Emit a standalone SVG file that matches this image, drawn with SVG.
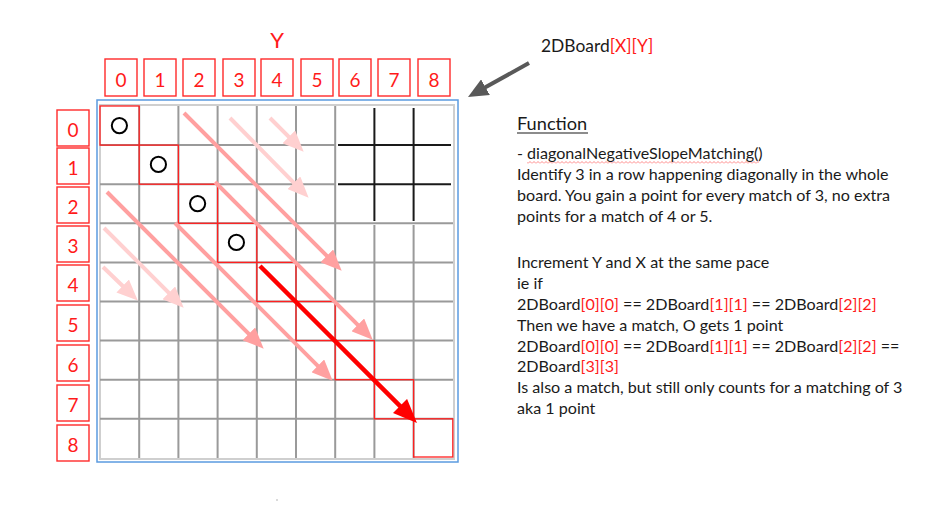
<svg xmlns="http://www.w3.org/2000/svg" width="940" height="529" viewBox="0 0 940 529">
<style>
.lbl{fill:none;stroke:#ff2a2a;stroke-width:1.4}
.num{font-family:Lato,"Liberation Sans",sans-serif;font-size:19px;fill:#ff1a1a;text-anchor:middle}
.g{stroke:#9a9a9a;stroke-width:2;fill:none}
.k{stroke:#1a1a1a;stroke-width:2;fill:none}
.cell{fill:none;stroke:#ff2020;stroke-width:1.3}
.o{fill:none;stroke:#000;stroke-width:2}
.txt{font-family:Lato,"Liberation Sans",sans-serif;font-size:16.1px;fill:#1a1a1a}
.r{fill:#ff1a1a}
.am{stroke:#ffa0a0;stroke-width:4;fill:none}
.al{stroke:#ffd0d0;stroke-width:4;fill:none}
.ar{stroke:#ff0000;stroke-width:4.5;fill:none}
</style>
<defs>
<marker id="hm" markerUnits="userSpaceOnUse" viewBox="0 0 21 18" markerWidth="21" markerHeight="18" refX="12" refY="9" orient="auto"><path d="M0,0 L21,9 L0,18 z" fill="#ffa0a0"/></marker>
<marker id="hl" markerUnits="userSpaceOnUse" viewBox="0 0 21 18" markerWidth="21" markerHeight="18" refX="12" refY="9" orient="auto"><path d="M0,0 L21,9 L0,18 z" fill="#ffd0d0"/></marker>
<marker id="hr" markerUnits="userSpaceOnUse" viewBox="0 0 24 20" markerWidth="24" markerHeight="20" refX="14" refY="10" orient="auto"><path d="M0,0 L24,10 L0,20 z" fill="#ff0000"/></marker>
<marker id="hg" markerUnits="userSpaceOnUse" viewBox="0 0 20 18" markerWidth="20" markerHeight="18" refX="12" refY="9" orient="auto"><path d="M0,0 L20,9 L0,18 z" fill="#595959"/></marker>
<pattern id="sq" patternUnits="userSpaceOnUse" x="0" y="161" width="4" height="3"><polyline points="0,2.5 2,0.5 4,2.5" fill="none" stroke="#ff6b6b" stroke-width="0.8"/></pattern>
</defs>

<g id="y-title"><text x="277" y="48" style="font-family:Lato,'Liberation Sans',sans-serif;font-size:22px;fill:#ff1a1a;text-anchor:middle">Y</text></g>

<g id="col-labels">
<rect class="lbl" x="105" y="59" width="32" height="37"/><text class="num" x="121" y="87">0</text>
<rect class="lbl" x="144" y="59" width="32" height="37"/><text class="num" x="160" y="87">1</text>
<rect class="lbl" x="183" y="59" width="32" height="37"/><text class="num" x="199" y="87">2</text>
<rect class="lbl" x="223" y="59" width="32" height="37"/><text class="num" x="239" y="87">3</text>
<rect class="lbl" x="261" y="59" width="32" height="37"/><text class="num" x="277" y="87">4</text>
<rect class="lbl" x="301" y="59" width="32" height="37"/><text class="num" x="317" y="87">5</text>
<rect class="lbl" x="339" y="59" width="32" height="37"/><text class="num" x="355" y="87">6</text>
<rect class="lbl" x="378" y="59" width="32" height="37"/><text class="num" x="394" y="87">7</text>
<rect class="lbl" x="418" y="59" width="32" height="37"/><text class="num" x="434" y="87">8</text>
</g>

<g id="row-labels">
<rect class="lbl" x="57" y="110" width="32" height="36"/><text class="num" x="73" y="137">0</text>
<rect class="lbl" x="57" y="148" width="32" height="36"/><text class="num" x="73" y="175">1</text>
<rect class="lbl" x="57" y="187" width="32" height="36"/><text class="num" x="73" y="214">2</text>
<rect class="lbl" x="57" y="226" width="32" height="36"/><text class="num" x="73" y="253">3</text>
<rect class="lbl" x="57" y="265" width="32" height="36"/><text class="num" x="73" y="292">4</text>
<rect class="lbl" x="57" y="305" width="32" height="36"/><text class="num" x="73" y="332">5</text>
<rect class="lbl" x="57" y="345" width="32" height="36"/><text class="num" x="73" y="372">6</text>
<rect class="lbl" x="57" y="385" width="32" height="36"/><text class="num" x="73" y="412">7</text>
<rect class="lbl" x="57" y="425" width="32" height="36"/><text class="num" x="73" y="452">8</text>
</g>

<g id="board">
<rect x="97" y="100" width="361" height="362" fill="none" stroke="#5b9be0" stroke-width="1.5"/>
<rect x="100" y="105" width="354" height="354" fill="none" stroke="#cfcfcf" stroke-width="2"/>
<path class="g" d="M139.2,106V458 M178.4,106V458 M217.6,106V458 M256.8,106V458 M296,106V458 M335.2,106V458 M374.4,225V458 M413.6,225V458"/>
<path class="g" d="M100,145.1H335.2 M100,184.2H335.2 M100,223.3H453 M100,262.4H453 M100,301.5H453 M100,340.6H453 M100,379.7H453 M100,418.8H453"/>
<path class="k" d="M374.4,108V221 M413.6,108V221 M338,145.1H451 M338,184.2H451"/>
</g>

<g id="cells">
<rect class="cell" x="100" y="106" width="39.2" height="39.1"/>
<rect class="cell" x="139.2" y="145.1" width="39.2" height="39.1"/>
<rect class="cell" x="178.4" y="184.2" width="39.2" height="39.1"/>
<rect class="cell" x="217.6" y="223.3" width="39.2" height="39.1"/>
<rect class="cell" x="256.8" y="262.4" width="39.2" height="39.1"/>
<rect class="cell" x="296" y="301.5" width="39.2" height="39.1"/>
<rect class="cell" x="335.2" y="340.6" width="39.2" height="39.1"/>
<rect class="cell" x="374.4" y="379.7" width="39.2" height="39.1"/>
<rect class="cell" x="413.6" y="418.8" width="39.2" height="38.2"/>
</g>

<g id="marks">
<circle class="o" cx="119.4" cy="125.6" r="7.6"/>
<circle class="o" cx="158.4" cy="164.4" r="7.6"/>
<circle class="o" cx="197.6" cy="203.6" r="7.6"/>
<circle class="o" cx="236.4" cy="242.4" r="7.6"/>
</g>

<g id="connectors">
<line class="al" x1="230" y1="118" x2="302.3" y2="191.3" marker-end="url(#hl)"/>
<line class="al" x1="270" y1="118" x2="297.3" y2="145.3" marker-end="url(#hl)"/>
<line class="al" x1="104" y1="228" x2="177.3" y2="301.3" marker-end="url(#hl)"/>
<line class="al" x1="103" y1="267" x2="131.3" y2="294.3" marker-end="url(#hl)"/>
<line class="am" x1="184" y1="113" x2="335.3" y2="264.3" marker-end="url(#hm)"/>
<line class="am" x1="215" y1="182" x2="366.3" y2="333.3" marker-end="url(#hm)"/>
<line class="am" x1="175" y1="223" x2="326.3" y2="374.3" marker-end="url(#hm)"/>
<line class="am" x1="107" y1="192" x2="257.3" y2="342.3" marker-end="url(#hm)"/>
<line class="ar" x1="260" y1="266" x2="409.9" y2="415.9" marker-end="url(#hr)"/>
<line x1="529" y1="63" x2="475" y2="93.1" stroke="#595959" stroke-width="4" marker-end="url(#hg)"/>
</g>

<g id="title-note">
<text class="txt" x="541" y="52" style="font-size:17.4px">2DBoard<tspan class="r">[X][Y]</tspan></text>
</g>

<g id="description">
<text class="txt" x="517" y="130" style="font-size:18.2px">Function</text>
<line x1="517" y1="133" x2="588" y2="133" stroke="#1a1a1a" stroke-width="1.2"/>
<rect x="527" y="161" width="232" height="3" fill="url(#sq)"/>
<text class="txt" x="517" y="159">- diagonalNegativeSlopeMatching()</text>
<text class="txt" x="517" y="180">Identify 3 in a row happening diagonally in the whole</text>
<text class="txt" x="517" y="201">board. You gain a point for every match of 3, no extra</text>
<text class="txt" x="517" y="222">points for a match of 4 or 5.</text>
<text class="txt" x="517" y="268">Increment Y and X at the same pace</text>
<text class="txt" x="517" y="289">ie if</text>
<text class="txt" x="517" y="310">2DBoard<tspan class="r">[0][0]</tspan> == 2DBoard<tspan class="r">[1][1]</tspan> == 2DBoard<tspan class="r">[2][2]</tspan></text>
<text class="txt" x="517" y="331">Then we have a match, O gets 1 point</text>
<text class="txt" x="517" y="352">2DBoard<tspan class="r">[0][0]</tspan> == 2DBoard<tspan class="r">[1][1]</tspan> == 2DBoard<tspan class="r">[2][2]</tspan> ==</text>
<text class="txt" x="517" y="372">2DBoard<tspan class="r">[3][3]</tspan></text>
<text class="txt" x="517" y="393">Is also a match, but still only counts for a matching of 3</text>
<text class="txt" x="517" y="414">aka 1 point</text>
</g>

<circle cx="277" cy="500" r="0.8" fill="#aaa"/>
</svg>
